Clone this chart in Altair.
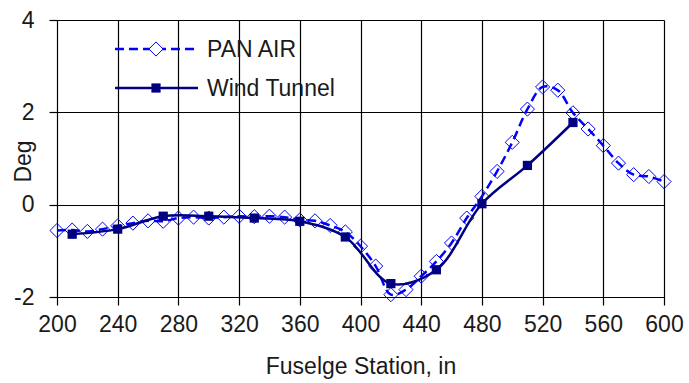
import altair as alt
import pandas as pd

# ---- data ----
pan_x = [200, 210, 220, 230, 240, 250, 260, 270, 280, 290, 300, 310, 320, 330, 340,
         350, 360, 370, 380, 390, 400, 410, 420, 430, 440, 450, 460, 470, 480, 490,
         500, 510, 520, 530, 540, 550, 560, 570, 580, 590, 600]
pan_y = [-0.56, -0.55, -0.58, -0.53, -0.46, -0.40, -0.35, -0.36, -0.29, -0.27,
         -0.29, -0.27, -0.25, -0.26, -0.25, -0.27, -0.33, -0.35, -0.45, -0.59,
         -0.90, -1.33, -1.95, -1.84, -1.55, -1.23, -0.83, -0.29, 0.18, 0.72,
         1.35, 2.07, 2.55, 2.48, 1.99, 1.64, 1.28, 0.90, 0.65, 0.61, 0.50]

wt_x = [210, 240, 270, 300, 330, 360, 390, 420, 450, 480, 510, 540]
wt_y = [-0.64, -0.53, -0.25, -0.25, -0.29, -0.36, -0.70, -1.71, -1.41, 0.02, 0.85, 1.78]

series_names = ["PAN AIR", "Wind Tunnel"]
x_ticks = [200, 240, 280, 320, 360, 400, 440, 480, 520, 560, 600]
y_ticks = [-2, 0, 2, 4]

pan = pd.DataFrame({"station": pan_x, "deg": pan_y})
wt = pd.DataFrame({"station": wt_x, "deg": wt_y})

FONT = "Liberation Sans"
PAN_COLOR = "#0000FF"
WT_COLOR = "#000080"
TXT = "#1a1a1a"

x_enc = alt.X(
    "station:Q",
    scale=alt.Scale(domain=[200, 600], nice=False, zero=False),
    axis=alt.Axis(
        values=x_ticks, title="Fuselge Station, in", grid=True,
        labelFlush=False, labelOverlap=False, labelPadding=8,
        titleBaseline="alphabetic", titleY=76,
    ),
)
y_enc = alt.Y(
    "deg:Q",
    scale=alt.Scale(domain=[-2, 4], nice=False, zero=False),
    axis=alt.Axis(
        values=y_ticks, title="Deg", grid=True,
        labelExpr="'' + datum.value",
        labelFlush=False, labelOverlap=False, labelPadding=15,
        titleBaseline="alphabetic", titleX=-27, titleY=141, titleAngle=270,
        titleAlign="center",
    ),
)

pan_line = alt.Chart(pan).mark_line(
    color=PAN_COLOR, strokeWidth=2.5, strokeDash=[9, 5], interpolate="catmull-rom"
).encode(x=x_enc, y=y_enc)
pan_pts = alt.Chart(pan).mark_point(
    shape="diamond", size=200, filled=False, color=PAN_COLOR, strokeWidth=1, opacity=1
).encode(x=x_enc, y=y_enc)

wt_line = alt.Chart(wt).mark_line(
    color=WT_COLOR, strokeWidth=2.5, interpolate="catmull-rom"
).encode(x=x_enc, y=y_enc)
wt_pts = alt.Chart(wt).mark_point(
    shape="square", size=85, filled=True, color=WT_COLOR, opacity=1
).encode(x=x_enc, y=y_enc)

# ---- legend (drawn inside the plot, top-left) ----
leg_pan = pd.DataFrame({"label": [series_names[0]]})
leg_wt = pd.DataFrame({"label": [series_names[1]]})

lp_rule = alt.Chart(leg_pan).mark_rule(
    color=PAN_COLOR, strokeWidth=2.5, strokeDash=[9, 5]
).encode(x=alt.value(58), x2=alt.value(141), y=alt.value(29))
lp_pt = alt.Chart(leg_pan).mark_point(
    shape="diamond", size=200, filled=True, fill="white", stroke=PAN_COLOR,
    strokeWidth=1, opacity=1
).encode(x=alt.value(99), y=alt.value(29))
lp_txt = alt.Chart(leg_pan).mark_text(
    align="left", baseline="middle", font=FONT, fontSize=23, color=TXT
).encode(x=alt.value(150), y=alt.value(30), text="label:N")

lw_rule = alt.Chart(leg_wt).mark_rule(
    color=WT_COLOR, strokeWidth=2.5
).encode(x=alt.value(58), x2=alt.value(141), y=alt.value(68))
lw_pt = alt.Chart(leg_wt).mark_point(
    shape="square", size=85, filled=True, color=WT_COLOR, opacity=1
).encode(x=alt.value(99), y=alt.value(68))
lw_txt = alt.Chart(leg_wt).mark_text(
    align="left", baseline="middle", font=FONT, fontSize=23, color=TXT
).encode(x=alt.value(150), y=alt.value(69), text="label:N")

chart = alt.layer(
    pan_line, pan_pts, wt_line, wt_pts,
    lp_rule, lp_pt, lp_txt, lw_rule, lw_pt, lw_txt,
).properties(
    width=607, height=277,
    padding={"left": 57, "top": 20, "right": 25, "bottom": 86},
    autosize=alt.AutoSizeParams(type="none"),
    background="white",
).configure_view(
    strokeWidth=0
).configure_axis(
    domainColor="black", domainWidth=1,
    gridColor="black", gridWidth=1.2, gridOpacity=1,
    tickColor="black", tickSize=8, tickWidth=1.2,
    labelFont=FONT, labelFontSize=23, labelColor=TXT,
    titleFont=FONT, titleFontSize=23, titleColor=TXT, titleFontWeight="normal",
)

chart.save("out.html", embed_options={"renderer": "svg", "actions": False})
